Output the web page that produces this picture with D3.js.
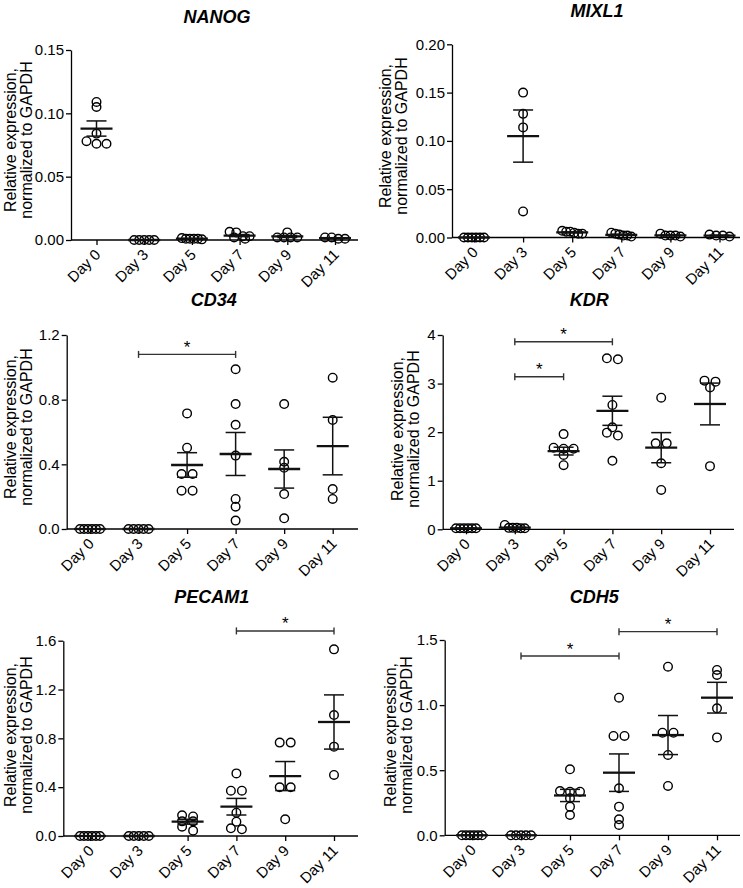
<!DOCTYPE html>
<html>
<head>
<meta charset="utf-8">
<script src="https://cdn.jsdelivr.net/npm/d3@7/dist/d3.min.js"></script>
<style>
  html, body { margin: 0; padding: 0; background: #fff; }
  svg { display: block; }
  text { font-family: "Liberation Sans", Arial, Helvetica, sans-serif; fill: #000; }
</style>
</head>
<body>
<svg id="chart" width="743" height="888"></svg>
<script>
// ---------------- DATA ----------------
const days = ["Day 0", "Day 3", "Day 5", "Day 7", "Day 9", "Day 11"];

const nanogValues = [
  [0.109, 0.105, 0.084, 0.078, 0.076, 0.076],
  [0, 0, 0, 0, 0],
  [0.001, 0.001, 0.0005, 0.001, 0.0015, 0.001],
  [0.0065, 0.006, 0.003, 0.002, 0.003, 0.001],
  [0.006, 0.002, 0.002, 0.002, 0.002],
  [0.001, 0.001, 0.002, 0.002]
];
const nanogMean = [0.088, 0, 0.001, 0.0035, 0.0028, 0.0015];
const nanogSem  = [0.006, 0, 0.0002, 0.0008, 0.0008, 0.0003];
const nanogTicks = [0, 0.05, 0.10, 0.15];

const mixl1Values = [
  [0, 0, 0, 0, 0, 0],
  [0.150, 0.128, 0.114, 0.027],
  [0.005, 0.004, 0.006, 0.006, 0.007, 0.004],
  [0.002, 0.004, 0.003, 0.001, 0.005, 0.002],
  [0.004, 0.002, 0.001, 0.002, 0.002],
  [0.002, 0.001, 0.002, 0.003]
];
const mixl1Mean = [0, 0.105, 0.0053, 0.0028, 0.0022, 0.002];
const mixl1Sem  = [0, 0.027, 0.0005, 0.0006, 0.0005, 0.0004];
const mixl1Ticks = [0, 0.05, 0.10, 0.15, 0.20];

const cd34Values = [
  [0, 0, 0, 0, 0, 0],
  [0, 0, 0, 0, 0],
  [0.715, 0.503, 0.34, 0.34, 0.237, 0.237],
  [0.988, 0.773, 0.645, 0.454, 0.186, 0.138, 0.052],
  [0.773, 0.416, 0.379, 0.216, 0.066],
  [0.936, 0.674, 0.247, 0.186]
];
const cd34Mean = [0, 0, 0.396, 0.464, 0.371, 0.513];
const cd34Sem  = [0, 0, 0.076, 0.133, 0.118, 0.178];
const cd34Ticks = [0, 0.4, 0.8, 1.2];
const cd34Sig = [{ from: "Day 3", to: "Day 7", at: 1.08 }];

const kdrValues = [
  [0.02, 0.02, 0.02, 0.02, 0.02, 0.02],
  [0.09, 0.03, 0.02, 0.02, 0.03, 0.03],
  [1.96, 1.66, 1.66, 1.68, 1.53, 1.32],
  [3.52, 3.50, 2.56, 2.10, 1.99, 1.93, 1.41],
  [2.71, 1.77, 1.77, 1.36, 0.81],
  [3.06, 3.04, 2.92, 1.30]
];
const kdrMean = [0.02, 0.035, 1.61, 2.44, 1.68, 2.58];
const kdrSem  = [0.002, 0.01, 0.08, 0.30, 0.31, 0.43];
const kdrTicks = [0, 1, 2, 3, 4];
const kdrSig = [
  { from: "Day 3", to: "Day 7", at: 3.86 },
  { from: "Day 3", to: "Day 5", at: 3.14 }
];

const pecam1Values = [
  [0, 0, 0, 0, 0, 0],
  [0, 0, 0, 0, 0],
  [0.17, 0.16, 0.12, 0.12, 0.076, 0.044],
  [0.513, 0.371, 0.371, 0.191, 0.117, 0.063, 0.055],
  [0.765, 0.765, 0.399, 0.399, 0.137],
  [1.529, 0.991, 0.732, 0.50]
];
const pecam1Mean = [0, 0, 0.117, 0.240, 0.491, 0.934];
const pecam1Sem  = [0, 0, 0.02, 0.068, 0.119, 0.222];
const pecam1Ticks = [0, 0.4, 0.8, 1.2, 1.6];
const pecam1Sig = [{ from: "Day 7", to: "Day 11", at: 1.68 }];

const cdh5Values = [
  [0, 0, 0, 0, 0, 0],
  [0, 0, 0, 0, 0],
  [0.507, 0.335, 0.335, 0.34, 0.284, 0.22, 0.156],
  [1.057, 0.763, 0.763, 0.361, 0.22, 0.123, 0.079],
  [1.295, 0.788, 0.788, 0.617, 0.379],
  [1.27, 1.231, 0.975, 0.752]
];
const cdh5Mean = [0, 0, 0.306, 0.481, 0.770, 1.057];
const cdh5Sem  = [0, 0, 0.047, 0.144, 0.150, 0.118];
const cdh5Ticks = [0, 0.5, 1.0, 1.5];
const cdh5Sig = [
  { from: "Day 3", to: "Day 7", at: 1.377 },
  { from: "Day 7", to: "Day 11", at: 1.564 }
];

const yLabel1 = "Relative expression,";
const yLabel2 = "normalized to GAPDH";

// ---------------- LAYOUT ----------------
const panels = [
  { title: "NANOG", values: nanogValues, mean: nanogMean, sem: nanogSem, ticks: nanogTicks, fmt: ".2f", sig: [],
    L: { ax: 71, top: 50, bottom: 240, right: 358, c0: 96.5, c1: 335, tx: 217, ty: 22.7, lx: 15.5, ly: 140 } },
  { title: "MIXL1", values: mixl1Values, mean: mixl1Mean, sem: mixl1Sem, ticks: mixl1Ticks, fmt: ".2f", sig: [],
    L: { ax: 452, top: 44.3, bottom: 237.5, right: 740, c0: 474, c1: 719.5, tx: 597, ty: 16.7, lx: 391, ly: 136 } },
  { title: "CD34", values: cd34Values, mean: cd34Mean, sem: cd34Sem, ticks: cd34Ticks, fmt: ".1f", sig: cd34Sig,
    L: { ax: 66.7, top: 335, bottom: 529, right: 358, c0: 90, c1: 332.7, tx: 213.7, ty: 305.5, lx: 15.5, ly: 427 } },
  { title: "KDR", values: kdrValues, mean: kdrMean, sem: kdrSem, ticks: kdrTicks, fmt: "d", sig: kdrSig,
    L: { ax: 442.7, top: 335, bottom: 529.3, right: 734, c0: 466, c1: 710, tx: 589.3, ty: 305.5, lx: 403, ly: 429 } },
  { title: "PECAM1", values: pecam1Values, mean: pecam1Mean, sem: pecam1Sem, ticks: pecam1Ticks, fmt: ".1f", sig: pecam1Sig,
    L: { ax: 63.3, top: 640.7, bottom: 836, right: 358, c0: 90, c1: 334, tx: 211.7, ty: 602.7, lx: 15.5, ly: 735 } },
  { title: "CDH5", values: cdh5Values, mean: cdh5Mean, sem: cdh5Sem, ticks: cdh5Ticks, fmt: ".1f", sig: cdh5Sig,
    L: { ax: 444.7, top: 640, bottom: 835.3, right: 740, c0: 472, c1: 717, tx: 594.3, ty: 603, lx: 396, ly: 735 } }
];

const svg = d3.select("#chart");
svg.append("rect").attr("width", 743).attr("height", 888).attr("fill", "#fff");

const R = 4.3;          // marker radius
const DIST = 11;        // spacing between side-by-side markers
const MAXHALF = 10;     // max half-width of a row of markers
const ROWTHR = 5;       // px threshold to group markers into a row
const TICKFONT = "15px";
const LABELFONT = "16px";

function swarm(vals, y) {
  const pts = vals.map(v => ({ v, py: y(v) })).sort((a, b) => a.py - b.py);
  const rows = [];
  let cur = null;
  pts.forEach(p => {
    if (cur && p.py - cur[0].py <= ROWTHR) cur.push(p);
    else { cur = [p]; rows.push(cur); }
  });
  const out = [];
  rows.forEach(r => {
    const n = r.length;
    const sp = n > 1 ? Math.min(DIST, 2 * MAXHALF / (n - 1)) : 0;
    r.forEach((p, k) => out.push({ v: p.v, py: p.py, dx: (k - (n - 1) / 2) * sp }));
  });
  return out;
}

function drawPanel(p) {
  const L = p.L;
  const g = svg.append("g");
  const x = d3.scalePoint().domain(days).range([L.c0, L.c1]);
  const y = d3.scaleLinear().domain([0, d3.max(p.ticks)]).range([L.bottom, L.top]);

  // title
  g.append("text")
    .attr("x", L.tx).attr("y", L.ty)
    .attr("text-anchor", "middle")
    .style("font-size", "18px").style("font-weight", "bold").style("font-style", "italic")
    .text(p.title);

  // y label
  const yl = g.append("g").attr("transform", `translate(${L.lx},${L.ly}) rotate(-90)`);
  yl.append("text").attr("x", 0).attr("y", 0).attr("text-anchor", "middle")
    .style("font-size", LABELFONT).text(yLabel1);
  yl.append("text").attr("x", 0).attr("y", 16).attr("text-anchor", "middle")
    .style("font-size", LABELFONT).text(yLabel2);

  // y axis
  const yAxis = d3.axisLeft(y).tickValues(p.ticks).tickFormat(d3.format(p.fmt))
    .tickSize(5).tickSizeOuter(0).tickPadding(2);
  const ya = g.append("g").attr("transform", `translate(${L.ax},0)`).call(yAxis);
  ya.attr("font-size", null).attr("font-family", null);
  ya.selectAll("text").style("font-size", TICKFONT).attr("fill", "#000");
  ya.select(".domain").attr("stroke", "#000").attr("stroke-width", 1.3);
  ya.selectAll(".tick line").attr("stroke", "#000").attr("stroke-width", 1.3);

  // x axis
  const xAxis = d3.axisBottom(x).tickSize(5).tickSizeOuter(0).tickPadding(0);
  const xa = g.append("g").attr("transform", `translate(0,${L.bottom})`).call(xAxis);
  xa.attr("font-size", null).attr("font-family", null);
  xa.select(".domain").attr("d", `M${L.ax},0H${L.right}`).attr("stroke", "#000").attr("stroke-width", 1.3);
  xa.selectAll(".tick line").attr("stroke", "#000").attr("stroke-width", 1.3);
  xa.selectAll(".tick text")
    .attr("x", 0).attr("y", 0).attr("dy", null)
    .attr("text-anchor", "end")
    .attr("transform", "translate(4.5,15.5) rotate(-45)")
    .style("font-size", TICKFONT).attr("fill", "#000");

  // points
  days.forEach((d, i) => {
    const cx = x(d);
    swarm(p.values[i], y).forEach(pt => {
      g.append("circle")
        .attr("cx", cx + pt.dx).attr("cy", pt.py).attr("r", R)
        .attr("fill", "none").attr("stroke", "#000").attr("stroke-width", 1.4);
    });
  });

  // mean + SEM
  days.forEach((d, i) => {
    const cx = x(d), m = p.mean[i], s = p.sem[i];
    g.append("line").attr("x1", cx - 16).attr("x2", cx + 16)
      .attr("y1", y(m)).attr("y2", y(m))
      .attr("stroke", "#111").attr("stroke-width", 2.3);
    g.append("line").attr("x1", cx).attr("x2", cx)
      .attr("y1", y(m - s)).attr("y2", y(m + s))
      .attr("stroke", "#111").attr("stroke-width", 1.5);
    [m - s, m + s].forEach(v => {
      g.append("line").attr("x1", cx - 10).attr("x2", cx + 10)
        .attr("y1", y(v)).attr("y2", y(v))
        .attr("stroke", "#111").attr("stroke-width", 1.5);
    });
  });

  // significance brackets
  p.sig.forEach(s => {
    const x1 = x(s.from), x2 = x(s.to), yy = y(s.at);
    g.append("line").attr("x1", x1).attr("x2", x2).attr("y1", yy).attr("y2", yy)
      .attr("stroke", "#333").attr("stroke-width", 1.4);
    [x1, x2].forEach(xx => {
      g.append("line").attr("x1", xx).attr("x2", xx).attr("y1", yy - 3.5).attr("y2", yy + 3.5)
        .attr("stroke", "#333").attr("stroke-width", 1.4);
    });
    g.append("text").attr("x", (x1 + x2) / 2).attr("y", yy - 1.5)
      .attr("text-anchor", "middle").style("font-size", "17px").text("*");
  });
}

panels.forEach(drawPanel);
</script>
</body>
</html>
